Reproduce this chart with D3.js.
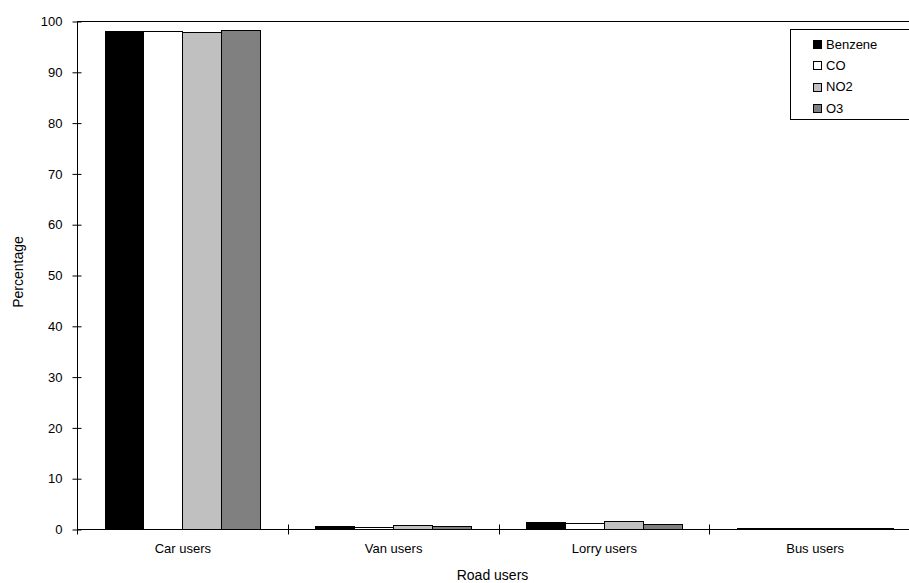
<!DOCTYPE html>
<html><head><meta charset="utf-8">
<script src="https://cdn.jsdelivr.net/npm/d3@7"></script>
<style>body{margin:0;background:#fff}svg{display:block}text{font-family:"Liberation Sans",Arial,sans-serif}</style>
</head><body><svg id="c" width="909" height="583"></svg>
<script>
const categories = ["Car users","Van users","Lorry users","Bus users"];
const seriesNames = ["Benzene","CO","NO2","O3"];
const benzene = [98.1, 0.55, 1.4, 0.15];
const co = [98.1, 0.4, 1.2, 0.1];
const no2 = [97.8, 0.7, 1.6, 0.15];
const o3 = [98.3, 0.5, 1.05, 0.1];
const yTicks = [0,10,20,30,40,50,60,70,80,90,100];
const colors = ["#000000","#ffffff","#c0c0c0","#808080"];

const series = [benzene, co, no2, o3];
const svg = d3.select("#c");
const L = 77, R = 920, T = 21, B = 529;
const x = d3.scaleBand().domain(categories).range([L, R]).padding(0);
const xs = d3.scaleBand().domain(seriesNames).range([0, x.bandwidth()]).paddingInner(0).paddingOuter(0.71);
const y = d3.scaleLinear().domain([0,100]).range([B, T]);

svg.append("rect").attr("x", L+0.5).attr("y", T+0.5).attr("width", R-L).attr("height", B-T)
  .attr("fill","none").attr("stroke","#000").attr("stroke-width",1);

categories.forEach((c, ci) => {
  series.forEach((s, si) => {
    const v = s[ci];
    svg.append("rect")
      .attr("x", Math.round(x(c) + xs(seriesNames[si])) + 0.5)
      .attr("y", Math.round(y(v)) + 0.5)
      .attr("width", Math.round(xs.bandwidth()))
      .attr("height", Math.max(0, Math.round(y(0)) - Math.round(y(v))))
      .attr("fill", colors[si]).attr("stroke","#000").attr("stroke-width",1);
  });
});

const ya = d3.axisLeft(y).tickValues(yTicks).tickSize(0).tickPadding(0);
const yg = svg.append("g").attr("transform", `translate(${L+0.5},0.5)`);
yg.call(ya);
yg.select(".domain").remove();
yg.selectAll(".tick line").remove();
yg.selectAll(".tick").append("line").attr("x1",-5).attr("x2",4).attr("stroke","#000");
yg.selectAll(".tick text").attr("x",-15).attr("font-size",13).attr("fill","#000")
  .attr("font-family",'"Liberation Sans",Arial,sans-serif');

const xa = d3.axisBottom(x).tickSize(0).tickPadding(0);
const xg = svg.append("g").attr("transform", `translate(0.5,${B+0.5})`);
xg.call(xa);
xg.select(".domain").remove();
xg.selectAll(".tick line").remove();
xg.selectAll(".tick text").attr("y", 14).attr("font-size",13).attr("fill","#000")
  .attr("font-family",'"Liberation Sans",Arial,sans-serif');
const boundaries = d3.range(categories.length + 1).map(i => L + i * x.step());
xg.selectAll(".bt").data(boundaries).enter().append("line")
  .attr("x1", d => Math.round(d)).attr("x2", d => Math.round(d))
  .attr("y1",-5).attr("y2",5).attr("stroke","#000");
svg.append("line").attr("x1",L).attr("x2",R).attr("y1",B+0.5).attr("y2",B+0.5).attr("stroke","#000");

svg.append("text").attr("x", (L+R)/2 - 6).attr("y", 580).attr("text-anchor","middle")
  .attr("font-size",14).text("Road users");
svg.append("text").attr("transform","translate(23,272) rotate(-90)").attr("text-anchor","middle")
  .attr("font-size",14).text("Percentage");

const lg = svg.append("g");
lg.append("rect").attr("x",790.5).attr("y",29.5).attr("width",140).attr("height",90)
  .attr("fill","#fff").attr("stroke","#000");
seriesNames.forEach((n, i) => {
  const cy = 44 + i * 21.3;
  lg.append("rect").attr("x",813.5).attr("y",Math.round(cy-4)+0.5).attr("width",8).attr("height",8)
    .attr("fill",colors[i]).attr("stroke","#000");
  lg.append("text").attr("x",826).attr("y",cy).attr("dy","0.36em").attr("font-size",13).text(n);
});
</script></body></html>
